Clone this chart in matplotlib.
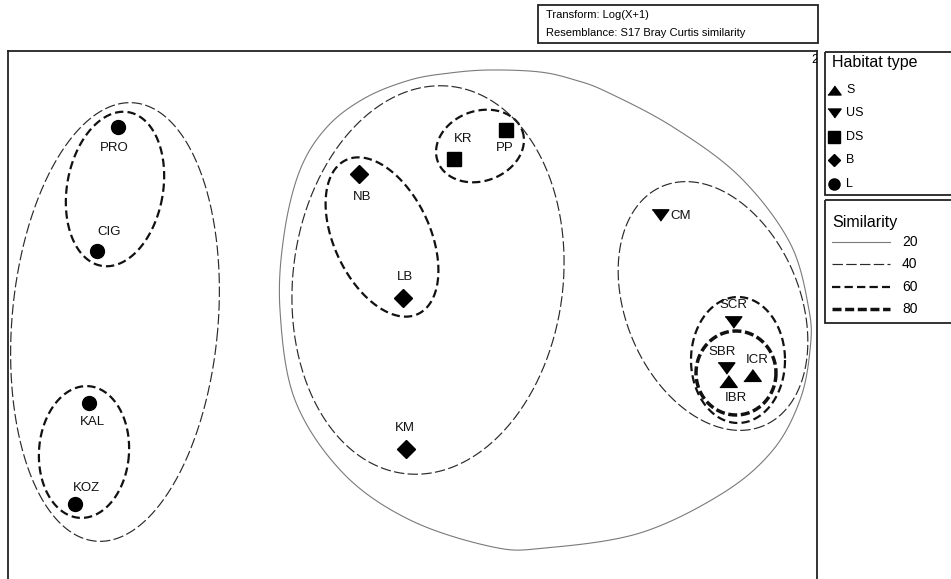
import numpy as np
import matplotlib
matplotlib.use("Agg")
import matplotlib.pyplot as plt
from matplotlib.patches import Rectangle

plt.rcParams['font.family'] = ['Liberation Sans', 'DejaVu Sans']
plt.rcParams['lines.scale_dashes'] = False

# ---------------- data (nMDS ordination, plot units) ----------------
sites = ['PRO', 'CIG', 'KAL', 'KOZ', 'NB', 'LB', 'KM', 'KR', 'PP',
         'CM', 'SCR', 'SBR', 'IBR', 'ICR']
habitat = ['L', 'L', 'L', 'L', 'B', 'B', 'B', 'DS', 'DS',
           'US', 'US', 'US', 'S', 'S']
mds_x = [118, 97, 89, 75, 359, 403, 406, 454, 506, 660, 733, 726, 728, 752]
mds_y = [127, 251, 403, 504, 174, 298, 449, 159, 130, 215, 322, 368, 381, 375]

habitat_types = ['S', 'US', 'DS', 'B', 'L']
similarity_levels = [20, 40, 60, 80]

# cluster contours: ellipses (cx, cy, semi-x, semi-y, angle, similarity)
ell_cx = [115, 115, 84, 382, 480, 428, 713, 738, 736]
ell_cy = [322, 189, 452, 237, 146, 280, 306, 360, 373]
ell_a = [103, 48, 45, 48, 45, 135, 130, 47, 40]
ell_b = [220, 78, 66, 85, 35, 195, 87, 63, 42]
ell_ang = [5, 10, 4, -25, -20, 7, 67, 0, 0]
ell_sim = [40, 60, 60, 60, 60, 40, 40, 60, 80]

# irregular 20% contour (outline points)
all20_x = [490, 540, 575, 607, 673, 740, 790, 809, 810, 800, 773, 723, 640, 545, 493, 410, 343, 295, 280, 284, 300, 327, 365, 410, 450]
all20_y = [70, 72, 80, 92, 127, 177, 243, 310, 350, 400, 450, 493, 533, 548, 547, 520, 473, 400, 310, 235, 170, 127, 98, 80, 73]

# label offsets (pixels) relative to points
lab_dx = [-4, 12, 3, 11, 3, 2, -1, 9, -1, 21, 0, -4, 8, 5]
lab_dy = [21, -19, 19, -16, 23, -21, -21, -20, 18, 1, -17, -16, 17, -15]

# ---------------- styles ----------------
tri_up = [(-1, -0.68), (1, -0.68), (0, 0.68)]
tri_dn = [(-1, 0.68), (1, 0.68), (0, -0.68)]
mk = {'S': (tri_up, 12.5), 'US': (tri_dn, 12), 'DS': ('s', 10), 'B': ('D', 8.7), 'L': ('o', 10)}
line_style = {
    20: dict(color='#7a7a7a', lw=0.8, ls='-'),
    40: dict(color='#2a2a2a', lw=0.85, ls=(0, (7.5, 2.4))),
    60: dict(color='#111111', lw=1.6, ls=(0, (6, 3))),
    80: dict(color='#111111', lw=2.5, ls=(0, (6.5, 2.6))),
}


def ellipse(cx, cy, a, b, ang, n=400):
    t = np.linspace(0, 2 * np.pi, n)
    x, y = a * np.cos(t), b * np.sin(t)
    th = np.radians(ang)
    return cx + x * np.cos(th) - y * np.sin(th), cy + x * np.sin(th) + y * np.cos(th)


def closed_curve(xs, ys, n=30):
    P = np.column_stack([xs, ys]).astype(float)
    m = len(P)
    t = np.linspace(0, 1, n, endpoint=False)[:, None]
    segs = []
    for i in range(m):
        p0, p1, p2, p3 = P[(i - 1) % m], P[i], P[(i + 1) % m], P[(i + 2) % m]
        segs.append(0.5 * (2 * p1 + (-p0 + p2) * t + (2 * p0 - 5 * p1 + 4 * p2 - p3) * t ** 2
                           + (-p0 + 3 * p1 - 3 * p2 + p3) * t ** 3))
    out = np.vstack(segs)
    return out[:, 0], out[:, 1]


W, H = 951, 579
fig = plt.figure(figsize=(W / 100, H / 100), dpi=100)

# main ordination axes
top_px, bot_px, left_px, right_px = 51, 592, 8, 817
ax = fig.add_axes([left_px / W, 1 - bot_px / H, (right_px - left_px) / W, (bot_px - top_px) / H])
ax.set_xlim(left_px, right_px)
ax.set_ylim(bot_px, top_px)
ax.set_xticks([])
ax.set_yticks([])
for s in ax.spines.values():
    s.set_linewidth(1.3)
    s.set_color('#222222')

# contours
x, y = closed_curve(all20_x, all20_y)
st = line_style[20]
ax.fill(x, y, fill=False, edgecolor=st['color'], lw=st['lw'], ls=st['ls'])
for cx, cy, a, b, ang, sim in zip(ell_cx, ell_cy, ell_a, ell_b, ell_ang, ell_sim):
    x, y = ellipse(cx, cy, a, b, ang)
    ax.plot(x, y, **line_style[sim])

# points and labels
for name, hab, px, py, dx, dy in zip(sites, habitat, mds_x, mds_y, lab_dx, lab_dy):
    m, ms = mk[hab]
    ax.plot(px, py, marker=m, ms=ms, color='black', mec='black', ls='none', zorder=5)
    ax.text(px + dx, py + dy, name, fontsize=9.5, ha='center', va='center', color='#111111', zorder=6)

ax.text(811, 60, '2', fontsize=9, ha='left', va='center', clip_on=True)

# overlay (pixel space) for boxes and legends
ov = fig.add_axes([0, 0, 1, 1], facecolor='none')
ov.set_xlim(0, W)
ov.set_ylim(H, 0)
ov.axis('off')

ov.add_patch(Rectangle((538, 5), 280, 38, fill=False, lw=1.3, ec='#222222'))
ov.text(546, 15, 'Transform: Log(X+1)', fontsize=8, va='center', ha='left')
ov.text(546, 33, 'Resemblance: S17 Bray Curtis similarity', fontsize=8, va='center', ha='left')

ov.add_patch(Rectangle((825, 52), 140, 143, fill=False, lw=1.3, ec='#222222', clip_on=False))
ov.text(832, 63, 'Habitat type', fontsize=11.5, va='center', ha='left')
leg_y = [90, 113, 137, 160, 184]
leg_ms = {'S': 9.5, 'US': 9.5, 'DS': 8, 'B': 6.5, 'L': 8}
for hab, yy in zip(habitat_types, leg_y):
    m, _ = mk[hab]
    ov.plot(834, yy, marker=m, ms=leg_ms[hab], color='black', ls='none')
    ov.text(846, yy, hab, fontsize=9, va='center', ha='left')

ov.add_patch(Rectangle((825, 200), 140, 123, fill=False, lw=1.3, ec='#222222', clip_on=False))
ov.text(832, 222, 'Similarity', fontsize=11.5, va='center', ha='left')
sim_y = [242, 264, 287, 309]
for lev, yy in zip(similarity_levels, sim_y):
    ov.plot([832, 890], [yy, yy], **line_style[lev])
    ov.text(902, yy, str(lev), fontsize=10, va='center', ha='left')

fig.savefig('out.png', dpi=100)
